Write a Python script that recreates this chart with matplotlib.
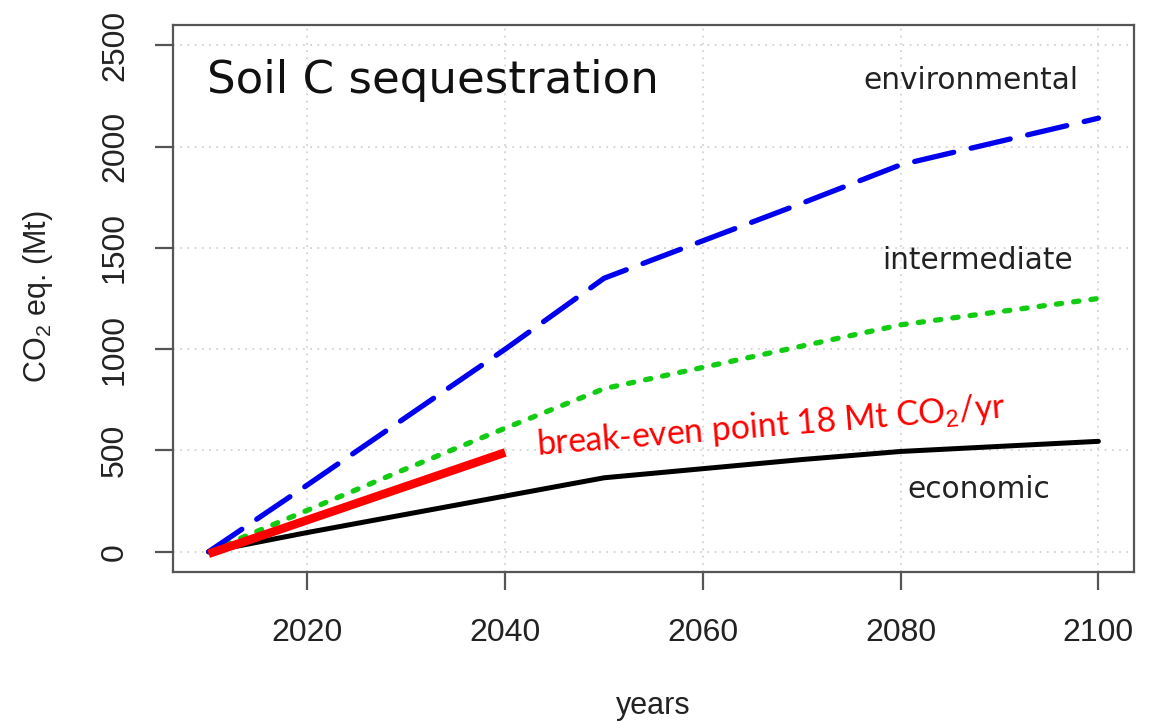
import matplotlib
matplotlib.use("Agg")
import matplotlib.pyplot as plt

years = [2010, 2020, 2030, 2040, 2050, 2060, 2070, 2080, 2090, 2100]
environmental = [0, 330, 665, 1000, 1350, 1535, 1720, 1910, 2025, 2140]
intermediate = [0, 205, 410, 610, 805, 910, 1015, 1120, 1185, 1250]
economic = [0, 95, 185, 275, 365, 410, 455, 495, 520, 545]
breakeven_years = [2010, 2040]
breakeven_values = [-10, 490]

xticks = [2020, 2040, 2060, 2080, 2100]
yticks = [0, 500, 1000, 1500, 2000, 2500]

plt.rcParams['mathtext.fontset'] = 'custom'
plt.rcParams['mathtext.rm'] = 'Liberation Sans'
plt.rcParams['mathtext.it'] = 'Liberation Sans:italic'
plt.rcParams['mathtext.bf'] = 'Liberation Sans:bold'

fig = plt.figure(figsize=(11.49, 7.21), dpi=100)
ax = fig.add_axes([173/1149, 1-572/721, (1134-173)/1149, (572-25)/721])

axis_col = '#555555'
ax.set_xlim(2006.4, 2103.6)
ax.set_ylim(-100, 2600)

ax.grid(True, color='#d3d3d3', linestyle=(0, (1, 3)), linewidth=1.3)
ax.set_axisbelow(True)

ax.plot(years, economic, color='black', lw=3.6, solid_capstyle='round', zorder=3)
ax.plot(years, intermediate, color='#11cc11', lw=3.8, dashes=(1.0, 2.3),
        dash_capstyle='round', zorder=3)
ax.plot(years, environmental, color='#0000ee', lw=3.8, dashes=(7.6, 3.4),
        dash_capstyle='round', zorder=3)
ax.plot(breakeven_years, breakeven_values, color='#ff0000', lw=6.2,
        solid_capstyle='butt', zorder=4)

ax.set_xticks(xticks)
ax.set_yticks(yticks)
ax.tick_params(axis='both', length=13, width=1.6, color=axis_col,
               labelsize=23, labelcolor='#222222')
ax.tick_params(axis='x', pad=20)
ax.tick_params(axis='y', pad=18)
for lab in ax.get_yticklabels():
    lab.set_rotation(90)
    lab.set_va('center')
for lab in ax.get_xticklabels() + ax.get_yticklabels():
    lab.set_family('Liberation Sans')
for sp in ax.spines.values():
    sp.set_color(axis_col)
    sp.set_linewidth(1.6)

fig.text(38/1149, 1-297/721, 'CO$_2$ eq. (Mt)', rotation=90, ha='center', va='center',
         fontsize=22, family='Liberation Sans', color='#222222')
fig.text(653/1149, 1-706/721, 'years', ha='center', va='center',
         fontsize=22, family='Liberation Sans', color='#222222')

ax.text(2009.8, 2327, 'Soil C sequestration', ha='left', va='center',
        fontsize=32.5, family='DejaVu Sans', color='#111111')
ax.text(2087.1, 2327, 'environmental', ha='center', va='center',
        fontsize=21.3, family='DejaVu Sans', color='#222222')
ax.text(2087.8, 1440, 'intermediate', ha='center', va='center',
        fontsize=21.3, family='DejaVu Sans', color='#222222')
ax.text(2087.9, 306, 'economic', ha='center', va='center',
        fontsize=21.3, family='DejaVu Sans', color='#222222')
ax.text(2066.9, 618, 'break-even point 18 Mt CO$_2$/yr', ha='center', va='center',
        rotation=4.6, rotation_mode='anchor', fontsize=24.2, family='Lato',
        color='#ff0000')

fig.savefig('out.png', dpi=100)
